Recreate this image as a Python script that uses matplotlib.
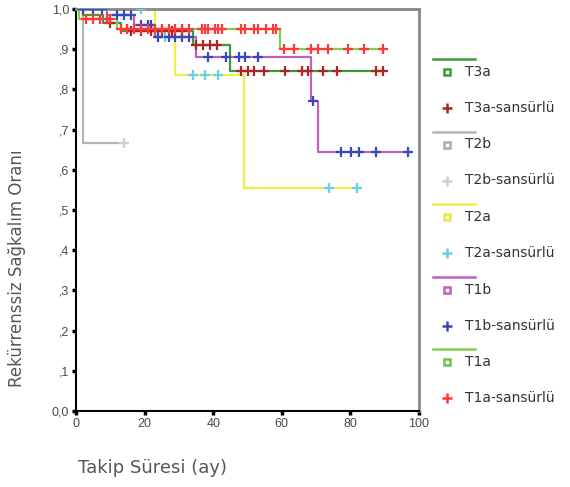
import numpy as np
import matplotlib
matplotlib.use("Agg")
import matplotlib.pyplot as plt

plt.rcParams['font.family'] = ['Liberation Sans', 'DejaVu Sans']

# grup verileri: olay zamanlari ve sagkalim seviyeleri, sansurlu zamanlar, son takip
t2b_t = [0, 2]
t2b_s = [1.0, 0.667]
t2b_c = [14]
t2b_end = 14

t2a_t = [0, 23, 29, 49]
t2a_s = [1.0, 0.93, 0.835, 0.555]
t2a_c = [19, 24, 26, 34, 37.7, 41.5, 73.7, 82]
t2a_end = 82

t1b_t = [0, 9, 17, 23, 35, 68.5, 70.5]
t1b_s = [1.0, 0.985, 0.96, 0.93, 0.88, 0.77, 0.645]
t1b_c = [2, 5, 7.6, 12, 14, 16, 19, 21, 22, 24, 27, 29, 31, 33,
         38.6, 43.6, 47.4, 49.4, 53.2, 69, 77.2, 80.1, 82.5, 87.4, 96.8]
t1b_end = 97

t3a_t = [0, 2, 8, 13, 34, 45]
t3a_s = [1.0, 0.985, 0.965, 0.945, 0.91, 0.845]
t3a_c = [10, 16, 19, 22, 25, 28, 31, 35, 37, 39, 41,
         48, 50, 51.8, 54.7, 61, 66, 67.5, 72, 76, 87.4, 89.5]
t3a_end = 90

t1a_t = [0, 1, 12, 59.5]
t1a_s = [1.0, 0.975, 0.95, 0.90]
t1a_c = [3, 5, 7, 9, 10, 13, 15, 17, 19, 21, 23, 25, 27, 29, 31, 33,
         36.8, 37.7, 38.6, 40.6, 41.5, 42.7, 48, 49.4, 51.8, 53.2, 55.3, 57.3, 58.2,
         60.5, 63.5, 68.4, 70.5, 73.4, 79.2, 84, 89.5]
t1a_end = 90

groups = [
    ("T2b", t2b_t, t2b_s, t2b_c, t2b_end, "#b4b4b4", "#cfcfcf"),
    ("T2a", t2a_t, t2a_s, t2a_c, t2a_end, "#eeee44", "#66d0e4"),
    ("T1b", t1b_t, t1b_s, t1b_c, t1b_end, "#c060c0", "#3848b8"),
    ("T3a", t3a_t, t3a_s, t3a_c, t3a_end, "#3a9a3a", "#a82828"),
    ("T1a", t1a_t, t1a_s, t1a_c, t1a_end, "#80d050", "#ff3838"),
]

legend_order = ["T3a", "T2b", "T2a", "T1b", "T1a"]
legend_sq = {"T3a": "#3a9a3a", "T2b": "#aaaaaa", "T2a": "#e8e840", "T1b": "#c060c0", "T1a": "#70c050"}

fig = plt.figure(figsize=(5.7, 4.87), dpi=100)
ax = fig.add_axes([76/570, 1-411/487, 343/570, 402/487])

for name, t, s, c, end, lc, cc in groups:
    xs = list(t) + [end]
    ys = list(s) + [s[-1]]
    ax.step(xs, ys, where='post', color=lc, lw=1.6, zorder=2)
    t_arr = np.array(t)
    s_arr = np.array(s)
    cy = s_arr[np.searchsorted(t_arr, c, side='right') - 1]
    ax.plot(c, cy, ls='none', marker='+', ms=6.5, mew=1.6, color=cc, zorder=3)

ax.set_xlim(0, 100)
ax.set_ylim(0, 1.0)
ax.set_xticks([0, 20, 40, 60, 80, 100])
yt = np.arange(0, 11) / 10
ax.set_yticks(yt)
ax.set_yticklabels(["0,0", ",1", ",2", ",3", ",4", ",5", ",6", ",7", ",8", ",9", "1,0"])
ax.tick_params(direction='out', length=3, width=2.5, labelsize=9, labelcolor='#4a4a55', pad=2)
for sp in ['left', 'bottom']:
    ax.spines[sp].set_linewidth(1.5)
    ax.spines[sp].set_color('black')
for sp in ['top', 'right']:
    ax.spines[sp].set_linewidth(2)
    ax.spines[sp].set_color('#888888')

fig.text(17/570, 1-268/487, "Rekürrenssiz Sağkalım Oranı", rotation=90, ha='center', va='center',
         fontsize=12, color='#555560', family=['DejaVu Sans'])
fig.text(78/570, 1-468/487, "Takip Süresi (ay)", ha='left', va='center', fontsize=13,
         color='#555560', family=['DejaVu Sans'])

# lejant
lg = fig.add_axes([0, 0, 1, 1])
lg.set_xlim(0, 570)
lg.set_ylim(487, 0)
lg.axis('off')
lookup = {g[0]: g for g in groups}
for i, name in enumerate(legend_order):
    g = lookup[name]
    base = 59 + i * 72.5
    lg.plot([433, 475], [base, base], color=g[5], lw=1.8)
    lg.plot([447], [base + 13], marker='s', ms=5, mfc='white', mec=legend_sq[name], mew=1.8)
    lg.text(465, base + 13, name, va='center', ha='left', fontsize=10, color='#333333',
            family=['DejaVu Sans'])
    lg.plot([447], [base + 49], marker='+', ms=7, mew=1.8, color=g[6])
    lg.text(465, base + 49, name + "-sansürlü", va='center', ha='left', fontsize=10, color='#333333',
            family=['DejaVu Sans'])

fig.savefig("out.png", dpi=100)
